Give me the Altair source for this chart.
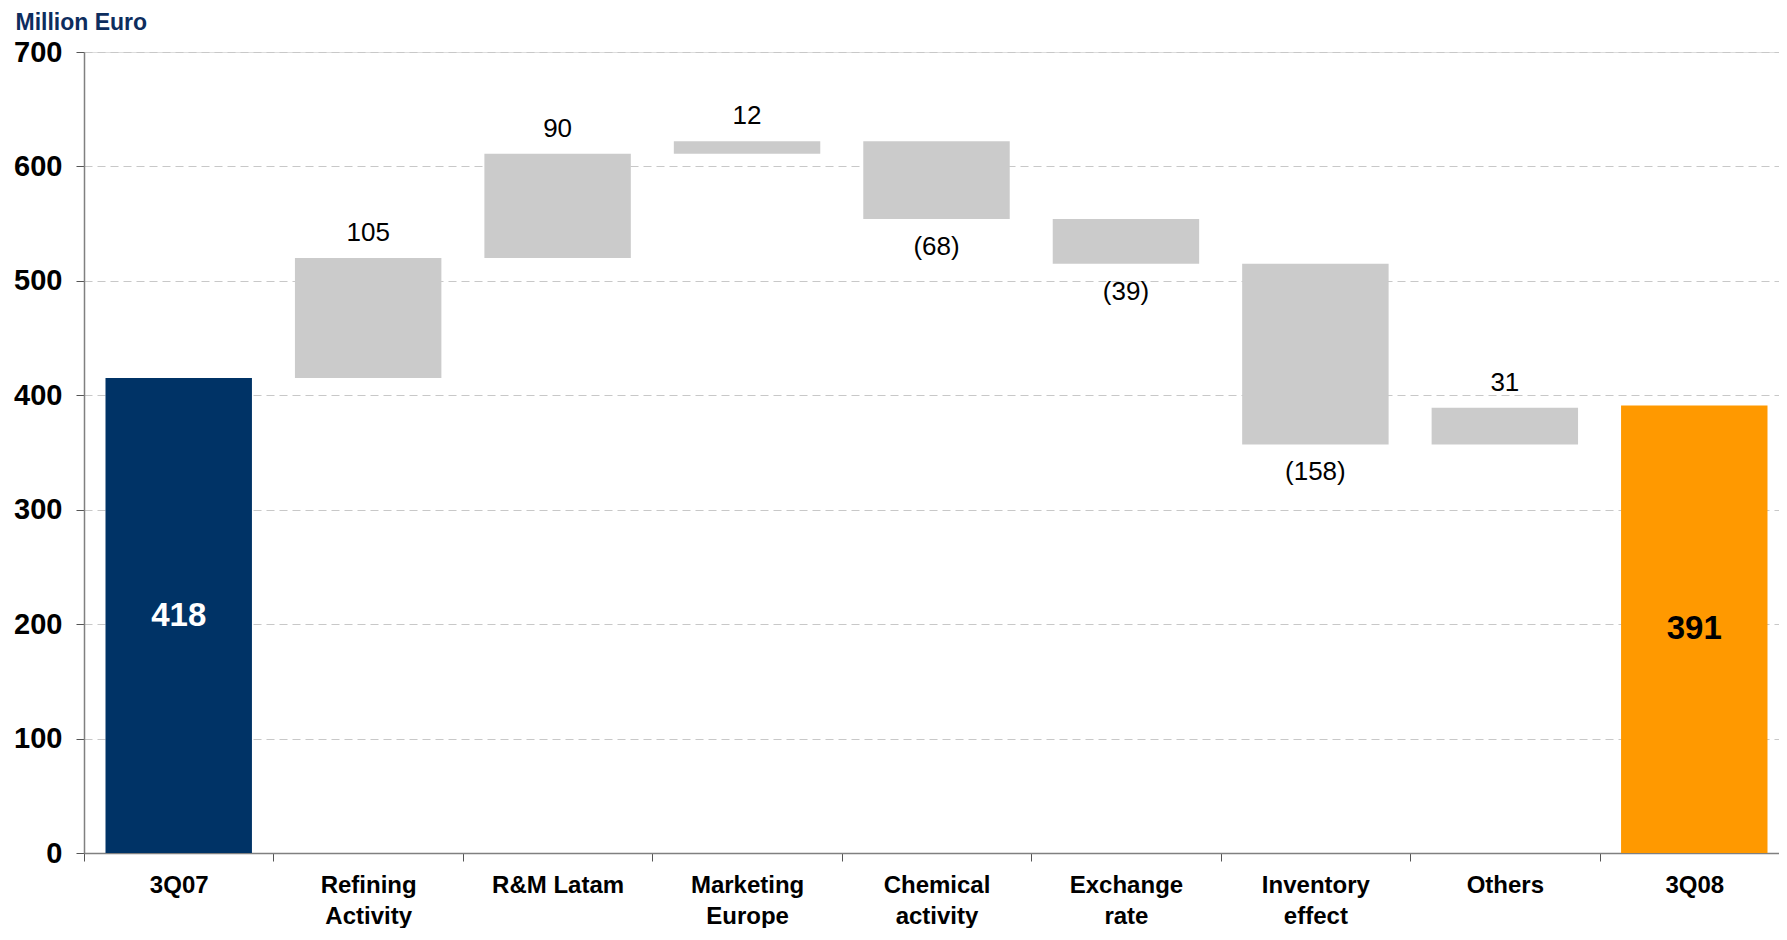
import altair as alt
import pandas as pd

categories = ["3Q07", "Refining\nActivity", "R&M Latam", "Marketing\nEurope",
              "Chemical\nactivity", "Exchange\nrate", "Inventory\neffect", "Others", "3Q08"]
# value labels as printed on the chart
labels = ["418", "105", "90", "12", "(68)", "(39)", "(158)", "31", "391"]
# running level (start bar top, then level after each step)
levels = [415, 520, 611, 622, 554, 515, 357, 389]
end_value = 391
y_ticks = [0, 100, 200, 300, 400, 500, 600, 700]

rows = [{"cat": categories[0], "low": 0, "high": levels[0], "kind": "start", "label": labels[0]}]
for i in range(1, 8):
    a, b = levels[i - 1], levels[i]
    rows.append({"cat": categories[i], "low": min(a, b), "high": max(a, b),
                 "kind": "up" if b >= a else "down", "label": labels[i]})
rows.append({"cat": categories[8], "low": 0, "high": end_value, "kind": "end", "label": labels[8]})
df = pd.DataFrame(rows)
df["mid"] = (df["low"] + df["high"]) / 2

FONT = "Liberation Sans"

x_enc = alt.X("cat:N", sort=categories, title=None,
              scale=alt.Scale(paddingInner=0, paddingOuter=0),
              axis=alt.Axis(labelExpr="split(datum.label, '\\n')", labelAngle=0,
                            labelFont=FONT, labelFontSize=24, labelFontWeight="bold",
                            labelColor="black", labelLineHeight=31, labelPadding=12,
                            tickBand="extent", tickSize=8, tickColor="#555555",
                            domainColor="#808080", domainWidth=1.5, grid=False))
y_scale = alt.Scale(domain=[0, 700], nice=False)

base = alt.Chart(df)

bars = base.mark_bar(width=alt.RelativeBandSize(0.773)).encode(
    x=x_enc,
    y=alt.Y("low:Q", scale=y_scale,
            axis=alt.Axis(values=y_ticks, labelFont=FONT, labelFontSize=29,
                          labelFontWeight="bold", labelColor="black", labelPadding=14,
                          tickSize=8, tickColor="#555555", domainColor="#808080",
                          domainWidth=1.5, grid=True, gridColor="#c8c8c8",
                          gridDash=[8, 5], gridWidth=1.2,
                          title="Million Euro", titleAngle=0, titleAlign="left",
                          titleBaseline="alphabetic", titleX=-69, titleY=-23,
                          titleFont=FONT, titleFontSize=23, titleFontWeight="bold",
                          titleColor="#0d2d5e")),
    y2="high:Q",
    color=alt.Color("kind:N", legend=None,
                    scale=alt.Scale(domain=["start", "up", "down", "end"],
                                    range=["#003366", "#cbcbcb", "#cbcbcb", "#ff9900"])),
)

up_labels = base.transform_filter(alt.datum.kind == "up").mark_text(
    font=FONT, fontSize=26, baseline="alphabetic", dy=-17, color="black"
).encode(x=alt.X("cat:N", sort=categories), y=alt.Y("high:Q", scale=y_scale), text="label:N")

down_labels = base.transform_filter(alt.datum.kind == "down").mark_text(
    font=FONT, fontSize=26, baseline="alphabetic", dy=36, color="black"
).encode(x=alt.X("cat:N", sort=categories), y=alt.Y("low:Q", scale=y_scale), text="label:N")

total_labels = base.transform_filter(
    (alt.datum.kind == "start") | (alt.datum.kind == "end")
).mark_text(font=FONT, fontSize=33, fontWeight="bold", baseline="middle").encode(
    x=alt.X("cat:N", sort=categories),
    y=alt.Y("mid:Q", scale=y_scale),
    text="label:N",
    color=alt.condition(alt.datum.kind == "start", alt.value("white"), alt.value("black")),
)

chart = alt.layer(bars, up_labels, down_labels, total_labels).properties(
    width=1705, height=801,
    autosize=alt.AutoSizeParams(type="none"),
    padding={"left": 76, "top": 44, "right": -10, "bottom": 75},
).configure_view(stroke=None).configure(background="white")

chart.save("out.html", embed_options={"renderer": "svg", "actions": False})
